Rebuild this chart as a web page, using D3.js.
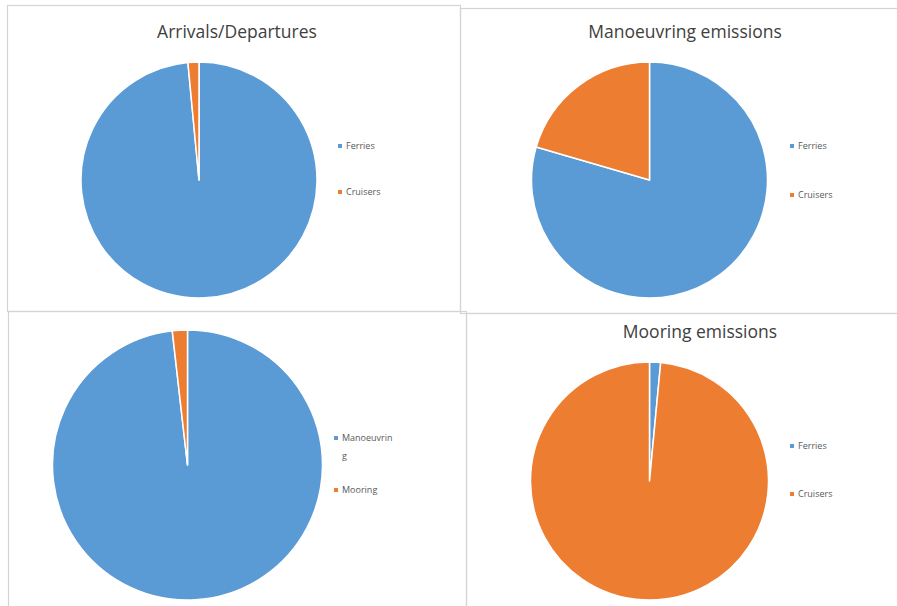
<!DOCTYPE html>
<html>
<head>
<meta charset="utf-8">
<script src="https://cdn.jsdelivr.net/npm/d3@7"></script>
<style>
  html, body { margin: 0; padding: 0; background: #fff; }
  svg { display: block; }
</style>
</head>
<body>
<svg id="chart" width="897" height="606"></svg>
<script>
// Shares of traffic and emissions by ship type
const shipTypes = ["Ferries", "Cruisers"];
const phaseTypes = ["Manoeuvring", "Mooring"];

const arrivalsValues = [98.5, 1.5];
const manoeuvringValues = [79.5, 20.5];
const phaseValues = [98.2, 1.8];
const mooringValues = [1.5, 98.5];

const titles = ["Arrivals/Departures", "Manoeuvring emissions", "", "Mooring emissions"];

const colors = d3.scaleOrdinal().range(["#5b9bd5", "#ed7d31"]);

const svg = d3.select("#chart");

// Panel frames
const frames = [
  { x: 7, y: 5, w: 453, h: 306 },
  { x: 460, y: 8, w: 440, h: 305 },
  { x: 8, y: 311, w: 458, h: 300 },
  { x: 466, y: 313, w: 440, h: 300 }
];
svg.append("g").selectAll("rect").data(frames).join("rect")
  .attr("x", d => d.x + 0.5).attr("y", d => d.y + 0.5)
  .attr("width", d => d.w).attr("height", d => d.h)
  .attr("fill", "none").attr("stroke", "#d4d4d4").attr("stroke-width", 1.2);

const panels = [
  { title: titles[0], labels: shipTypes, values: arrivalsValues,
    cx: 199, cy: 180, r: 118, tx: 237, ty: 38,
    lx: 340, ly: [146, 192] },
  { title: titles[1], labels: shipTypes, values: manoeuvringValues,
    cx: 649.5, cy: 180, r: 118, tx: 685, ty: 38,
    lx: 792, ly: [146, 195] },
  { title: titles[2], labels: phaseTypes, values: phaseValues,
    cx: 187.5, cy: 465, r: 135, tx: 0, ty: 0,
    lx: 336, ly: [438, 490], wrap: true },
  { title: titles[3], labels: shipTypes, values: mooringValues,
    cx: 649.5, cy: 481, r: 119, tx: 700, ty: 338,
    lx: 792, ly: [446, 494] }
];

const pie = d3.pie().sort(null).value(d => d.value);

panels.forEach(p => {
  const g = svg.append("g");
  const data = p.labels.map((l, i) => ({ label: l, value: p.values[i], idx: i }));
  const arc = d3.arc().innerRadius(0).outerRadius(p.r);

  g.append("g").attr("transform", `translate(${p.cx},${p.cy})`)
    .selectAll("path").data(pie(data)).join("path")
    .attr("d", arc)
    .attr("fill", d => colors(d.data.idx))
    .attr("stroke", "#fff").attr("stroke-width", 1.5)
    .attr("stroke-linejoin", "round");

  if (p.title) {
    g.append("text")
      .attr("x", p.tx).attr("y", p.ty)
      .attr("text-anchor", "middle")
      .attr("font-family", "'Open Sans', 'Liberation Sans', sans-serif")
      .attr("font-size", 17.5)
      .attr("fill", "#404040")
      .text(p.title);
  }

  // Legend
  const leg = g.append("g");
  data.forEach((d, i) => {
    const y = p.ly[i];
    leg.append("rect")
      .attr("x", p.lx - 2).attr("y", y - 2)
      .attr("width", 4).attr("height", 4)
      .attr("fill", colors(d.idx));
    const t = leg.append("text")
      .attr("x", p.lx + 6).attr("y", y + 3)
      .attr("font-family", "'Open Sans', 'Liberation Sans', sans-serif")
      .attr("font-size", 9)
      .attr("fill", "#595959");
    if (p.wrap && d.label.length > 10) {
      t.append("tspan").text(d.label.slice(0, 10));
      t.append("tspan").attr("x", p.lx + 6).attr("dy", 18).text(d.label.slice(10));
    } else {
      t.text(d.label);
    }
  });
});
</script>
</body>
</html>
